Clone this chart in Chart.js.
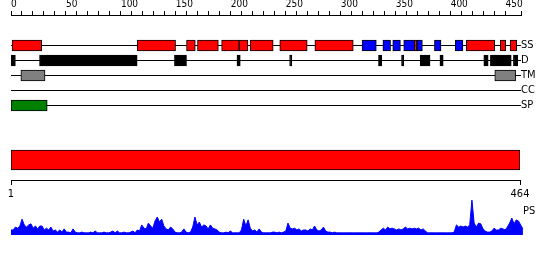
<!DOCTYPE html>
<html>
<head>
<meta charset="utf-8">
<script src="https://cdn.jsdelivr.net/npm/chart.js@4.4.1/dist/chart.umd.min.js"></script>
<style>
  body { margin: 0; background: #fff; }
  #wrap { position: relative; width: 550px; height: 260px; overflow: hidden; }
  canvas { position: absolute; left: 0; }
</style>
</head>
<body>
<div id="wrap">
  <canvas id="ruler" width="550" height="40" style="top:0px"></canvas>
  <canvas id="tracks" width="550" height="91" style="top:30px"></canvas>
  <canvas id="seq" width="550" height="61" style="top:140px"></canvas>
  <canvas id="ps" width="550" height="52" style="top:191px"></canvas>
</div>
<script>
// sequence + ruler
const seqLength = 464;
const seqEnds = [1, 464];
const rulerLabels = [0, 50, 100, 150, 200, 250, 300, 350, 400, 450];

// track rows
const trackNames = ['SS', 'D', 'TM', 'CC', 'SP'];

// segments as [from, to] in residues
const helix = [[1, 28], [115, 150], [160, 168], [170, 189], [192, 208], [208, 216],
    [218, 239], [245, 270], [277, 312], [368, 370], [415, 441], [446, 451], [455, 461]];
const strand = [[320, 333], [339, 346], [348, 355], [358, 368], [370, 375], [386, 392], [405, 412]];
const disorder = [[0, 4], [26, 115], [149, 160], [206, 209], [254, 256], [335, 338], [356, 358],
    [373, 382], [391, 394], [431, 435], [437, 456], [458, 462]];
const transmem = [[9, 31], [441, 460]];
const coiled = [];
const signalPep = [[0, 33]];

// PS profile, one value every 2 residues (1, 3, 5 ... 463)
const psValues = [
    .14, .14, .22, .19, .25, .44, .28, .22, .28, .31, .19, .25, .17, .25, .25, .14, .19, .14, .22, .11,
    .14, .08, .14, .08, .17, .08, .08, .06, .17, .08, .06, .06, .08, .06, .06, .06, .08, .06, .11, .06,
    .06, .06, .08, .06, .06, .08, .11, .06, .11, .06, .06, .08, .06, .06, .08, .11, .06, .14, .11, .28,
    .19, .17, .33, .25, .19, .39, .50, .36, .44, .25, .17, .14, .22, .17, .08, .06, .06, .08, .17, .08,
    .06, .08, .22, .50, .28, .36, .22, .28, .25, .17, .28, .19, .17, .14, .08, .06, .06, .08, .06, .11,
    .06, .06, .06, .06, .14, .44, .25, .42, .19, .11, .14, .08, .17, .08, .06, .06, .06, .06, .08, .08,
    .06, .08, .06, .08, .11, .33, .19, .17, .19, .14, .17, .11, .14, .14, .11, .17, .14, .25, .14, .11,
    .14, .22, .11, .08, .08, .06, .08, .06, .06, .06, .06, .06, .06, .06, .06, .06, .06, .06, .06, .06,
    .06, .06, .06, .06, .06, .06, .08, .14, .19, .14, .22, .17, .19, .17, .14, .17, .14, .17, .22, .17,
    .19, .17, .19, .17, .19, .14, .17, .11, .06, .06, .06, .06, .06, .06, .06, .06, .06, .06, .06, .06,
    .08, .28, .22, .25, .22, .25, .22, .28, .97, .33, .22, .33, .31, .17, .11, .08, .08, .11, .19, .14,
    .14, .19, .17, .14, .22, .33, .47, .31, .42, .39, .28, .17];

const fontFamily = '"DejaVu Sans Condensed", "DejaVu Sans", sans-serif';
Chart.defaults.font.family = fontFamily;
Chart.defaults.color = '#000';
Chart.defaults.animation = false;
Chart.defaults.responsive = false;
Chart.defaults.plugins.legend.display = false;
Chart.defaults.plugins.tooltip.enabled = false;

// top ruler
new Chart(document.getElementById('ruler'), {
    type: 'line',
    data: { datasets: [] },
    options: {
        layout: { padding: { left: 11, right: 29, top: 0, bottom: 0 } },
        scales: {
            x: {
                type: 'linear', position: 'top', min: 0, max: seqLength,
                ticks: {
                    stepSize: 10, autoSkip: false, maxRotation: 0, align: 'start', padding: 1,
                    font: { size: 10 },
                    callback: (v) => rulerLabels.includes(v) ? String(v) : ''
                },
                grid: { drawOnChartArea: false, tickLength: 4, color: '#000' },
                border: { color: '#000' },
                afterFit: (s) => { s.height = 15; }
            },
            y: { display: false }
        }
    }
});

// feature tracks
const rows = (list, name) => list.map((r) => ({ x: r, y: name }));
new Chart(document.getElementById('tracks'), {
    type: 'bar',
    data: {
        labels: trackNames,
        datasets: [
            { label: 'helix', data: rows(helix, 'SS'), backgroundColor: '#ff0000' },
            { label: 'strand', data: rows(strand, 'SS'), backgroundColor: '#0000ff' },
            { label: 'disorder', data: rows(disorder, 'D'), backgroundColor: '#000000' },
            { label: 'transmembrane', data: rows(transmem, 'TM'), backgroundColor: '#808080' },
            { label: 'coiled coil', data: rows(coiled, 'CC'), backgroundColor: '#000000' },
            { label: 'signal peptide', data: rows(signalPep, 'SP'), backgroundColor: '#008000' }
        ]
    },
    options: {
        indexAxis: 'y',
        layout: { padding: { left: 11, right: 0, top: 8, bottom: 8 } },
        datasets: {
            bar: { grouped: false, barThickness: 11, borderWidth: 1, borderColor: '#000', borderSkipped: false }
        },
        scales: {
            x: { type: 'linear', display: false, min: 0, max: seqLength },
            y: {
                position: 'right',
                grid: { offset: false, color: '#000', tickLength: 1 },
                border: { display: false },
                ticks: { autoSkip: false, padding: 0, font: { size: 11 } },
                afterFit: (s) => { s.width = 30; }
            }
        }
    }
});

// whole sequence bar with its end ruler
new Chart(document.getElementById('seq'), {
    type: 'bar',
    data: {
        labels: ['sequence'],
        datasets: [{ data: [seqEnds], backgroundColor: '#ff0000', borderColor: '#000', borderWidth: 1, borderSkipped: false, barThickness: 20 }]
    },
    options: {
        indexAxis: 'y',
        layout: { padding: { left: 11, right: 30, top: 0, bottom: 0 } },
        scales: {
            x: {
                type: 'linear', min: seqEnds[0], max: seqEnds[1],
                afterBuildTicks: (s) => { s.ticks = seqEnds.map((v) => ({ value: v })); },
                ticks: { autoSkip: false, maxRotation: 0, padding: 3, font: { size: 11 } },
                grid: { drawOnChartArea: false, tickLength: 5, color: '#000' },
                border: { color: '#000' },
                afterFit: (s) => { s.height = 21; }
            },
            y: { display: false }
        }
    }
});

// PS profile
new Chart(document.getElementById('ps'), {
    type: 'line',
    data: {
        datasets: [{
            label: 'PS',
            data: psValues.map((v, i) => ({ x: 1 + i * 2, y: v })),
            fill: 'origin', backgroundColor: '#0000ff', borderColor: '#0000ff',
            borderWidth: 1, pointRadius: 0, tension: 0
        }]
    },
    options: {
        layout: { padding: { left: 11, right: 0, top: 8, bottom: 8 } },
        scales: {
            x: { type: 'linear', display: false, min: 1, max: seqLength },
            y: {
                position: 'right', min: 0, max: 1,
                afterBuildTicks: (s) => { s.ticks = [{ value: 0.67 }]; },
                ticks: { padding: -1, font: { size: 11 }, callback: (v, i, t) => 'PS' },
                grid: { display: false, drawTicks: false },
                border: { display: false },
                afterFit: (s) => { s.width = 26; }
            }
        }
    }
});
</script>
</body>
</html>
